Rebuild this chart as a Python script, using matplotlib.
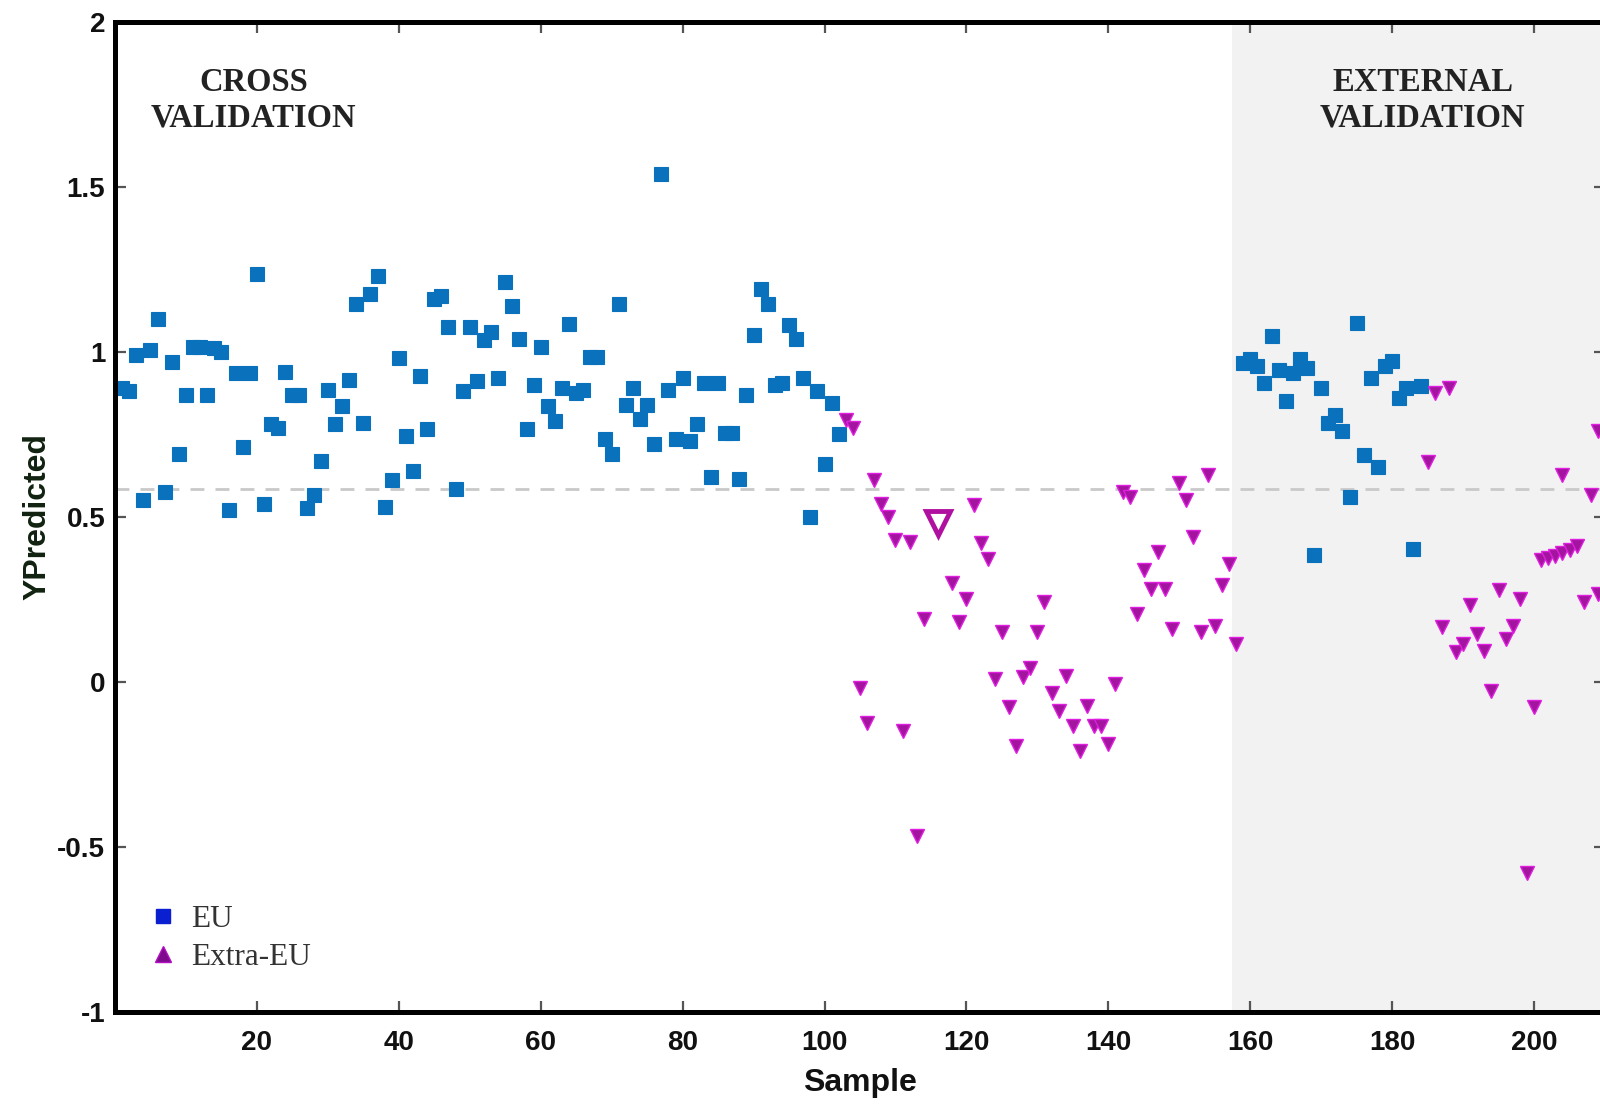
import matplotlib
matplotlib.use("Agg")
import matplotlib.pyplot as plt
from matplotlib.lines import Line2D

# ---------------- data ----------------
eu_cv_sample = list(range(1, 103))
eu_cv_value = [
    0.89, 0.88, 0.99, 0.55, 1.005, 1.10, 0.575, 0.97, 0.69, 0.87,
    1.015, 1.015, 0.87, 1.01, 1.00, 0.52, 0.935, 0.71, 0.935, 1.235,
    0.54, 0.78, 0.77, 0.94, 0.87, 0.87, 0.525, 0.565, 0.67, 0.885,
    0.78, 0.835, 0.915, 1.145, 0.785, 1.175, 1.23, 0.53, 0.61, 0.98,
    0.745, 0.64, 0.925, 0.765, 1.16, 1.17, 1.075, 0.585, 0.88, 1.075,
    0.91, 1.035, 1.06, 0.92, 1.21, 1.14, 1.04, 0.765, 0.90, 1.015,
    0.835, 0.79, 0.89, 1.085, 0.875, 0.885, 0.985, 0.985, 0.735, 0.69,
    1.145, 0.84, 0.89, 0.795, 0.84, 0.72, 1.54, 0.885, 0.735, 0.92,
    0.73, 0.78, 0.905, 0.62, 0.905, 0.755, 0.755, 0.615, 0.87, 1.05,
    1.19, 1.145, 0.90, 0.905, 1.08, 1.04, 0.92, 0.50, 0.88, 0.66,
    0.845, 0.75,
]

extra_cv_sample = [
    103, 104, 105, 106, 107, 108, 109, 110, 111, 112, 113, 114,
    118, 119, 120, 121, 122, 123, 124, 125, 126, 127, 128, 129, 130,
    131, 132, 133, 134, 135, 136, 137, 138, 139, 140, 141, 142, 143,
    144, 145, 146, 147, 148, 149, 150, 151, 152, 153, 154, 155, 156,
    157, 158,
]
extra_cv_value = [
    0.794, 0.769, -0.02, -0.124, 0.611, 0.54, 0.50, 0.429, -0.149, 0.424,
    -0.469, 0.19,
    0.30, 0.18, 0.25, 0.535, 0.419, 0.373, 0.008, 0.15, -0.078, -0.195,
    0.013, 0.043, 0.15, 0.241, -0.033, -0.089, 0.018, -0.134, -0.21,
    -0.073, -0.134, -0.134, -0.19, -0.007, 0.576, 0.561, 0.206, 0.337,
    0.282, 0.393, 0.282, 0.16, 0.601, 0.551, 0.439, 0.15, 0.627, 0.17,
    0.292, 0.358, 0.114,
]

highlight_sample = [116]
highlight_value = [0.48]

eu_ext_sample = list(range(159, 185))
eu_ext_value = [
    0.966, 0.977, 0.957, 0.906, 1.048, 0.946, 0.85, 0.936, 0.977, 0.951,
    0.383, 0.89, 0.784, 0.809, 0.759, 0.561, 1.088, 0.687, 0.921, 0.652,
    0.956, 0.972, 0.86, 0.89, 0.403, 0.896,
]

extra_ext_sample = [
    185, 186, 187, 188, 189, 190, 191, 192, 193, 194, 195, 196, 197, 198,
    199, 200, 201, 202, 203, 204, 205, 206, 204, 207, 208, 209, 209,
]
extra_ext_value = [
    0.667, 0.875, 0.165, 0.89, 0.089, 0.114, 0.231, 0.145, 0.094, -0.028,
    0.277, 0.13, 0.17, 0.251, -0.58, -0.078, 0.37, 0.375, 0.38, 0.39,
    0.40, 0.41, 0.627, 0.241, 0.566, 0.267, 0.76,
]

threshold = 0.584
external_start = 157.4
x_limits = (0, 210)
y_limits = (-1, 2)
x_ticks = [20, 40, 60, 80, 100, 120, 140, 160, 180, 200]
x_tick_labels = ["20", "40", "60", "80", "100", "120", "140", "160", "180", "200"]
y_ticks = [-1, -0.5, 0, 0.5, 1, 1.5, 2]
y_tick_labels = ["-1", "-0.5", "0", "0.5", "1", "1.5", "2"]

# ---------------- styling ----------------
EU_COLOR = "#0a72bd"
EXTRA_FACE = "#a3149f"
EXTRA_EDGE = "#e01ee0"
SANS = ["Liberation Sans", "DejaVu Sans"]
SERIF = ["Liberation Serif", "DejaVu Serif"]

fig = plt.figure(figsize=(16, 11.07), dpi=100)
ax = fig.add_axes([115 / 1600, 1 - 1011.7 / 1107, 1490 / 1600, 990 / 1107])

ax.set_xlim(*x_limits)
ax.set_ylim(*y_limits)

ax.axvspan(external_start, x_limits[1], color="#f2f2f2", zorder=0, lw=0)
ax.axhline(threshold, color="#c9c9c9", lw=2.0, ls=(0, (5, 4)), zorder=1)

ax.plot(eu_cv_sample, eu_cv_value, ls="none", marker="s", ms=10.5,
        mfc=EU_COLOR, mec=EU_COLOR, mew=0.8, zorder=3, clip_on=False)
ax.plot(eu_ext_sample, eu_ext_value, ls="none", marker="s", ms=10.5,
        mfc=EU_COLOR, mec=EU_COLOR, mew=0.8, zorder=3, clip_on=False)
ax.plot(extra_cv_sample, extra_cv_value, ls="none", marker="v", ms=10.5,
        mfc=EXTRA_FACE, mec=EXTRA_EDGE, mew=1.0, zorder=4, clip_on=False)
ax.plot(extra_ext_sample, extra_ext_value, ls="none", marker="v", ms=10.5,
        mfc=EXTRA_FACE, mec=EXTRA_EDGE, mew=1.0, zorder=4, clip_on=False)
ax.plot(highlight_sample, highlight_value, ls="none", marker="v", ms=17,
        mfc="white", mec="#b0109f", mew=3.5, zorder=4, clip_on=False)

# spines and ticks
for sp in ax.spines.values():
    sp.set_linewidth(3.6)
    sp.set_color("black")
    sp.set_zorder(5)

ax.set_xticks(x_ticks)
ax.set_xticklabels(x_tick_labels)
ax.set_yticks(y_ticks)
ax.set_yticklabels(y_tick_labels)
ax.tick_params(axis="both", direction="in", length=8, width=1.6,
               color="#555555", top=True, right=True)
ax.tick_params(axis="x", pad=13)
ax.tick_params(axis="y", pad=7)
for lab in ax.get_xticklabels() + ax.get_yticklabels():
    lab.set_fontfamily(SANS)
    lab.set_fontweight("bold")
    lab.set_fontsize(20)
    lab.set_color("#111111")

ax.set_xlabel("Sample", fontfamily=SANS, fontweight="bold", fontsize=23,
              color="#111111", va="center")
ax.xaxis.set_label_coords(0.5, -0.072)
ax.set_ylabel("YPredicted", fontfamily=SANS, fontweight="bold", fontsize=23,
              color="#112211", va="center")
ax.yaxis.set_label_coords(-0.052, 0.5)

# section titles
ax.text(19.5, 1.762, "CROSS\nVALIDATION", ha="center", va="center",
        fontfamily=SERIF, fontweight="bold", fontsize=23.5, color="#222222",
        linespacing=1.15, zorder=6)
ax.text(184.3, 1.762, "EXTERNAL\nVALIDATION", ha="center", va="center",
        fontfamily=SERIF, fontweight="bold", fontsize=23.5, color="#222222",
        linespacing=1.15, zorder=6)

# legend
handles = [
    Line2D([], [], ls="none", marker="s", ms=10, mfc="#0a1fd0", mec="#0a1fd0"),
    Line2D([], [], ls="none", marker="^", ms=11, mfc="#7e0b8c", mec="#b010c0"),
]
leg = ax.legend(handles, ["EU", "Extra-EU"], loc="lower left",
                bbox_to_anchor=(0.022, 0.040), frameon=False, borderpad=0,
                borderaxespad=0, handlelength=1.0, handletextpad=0.4,
                labelspacing=0.3, prop={"family": SERIF, "size": 22.5})
for t in leg.get_texts():
    t.set_color("#333333")

fig.savefig("out.png", dpi=100)
